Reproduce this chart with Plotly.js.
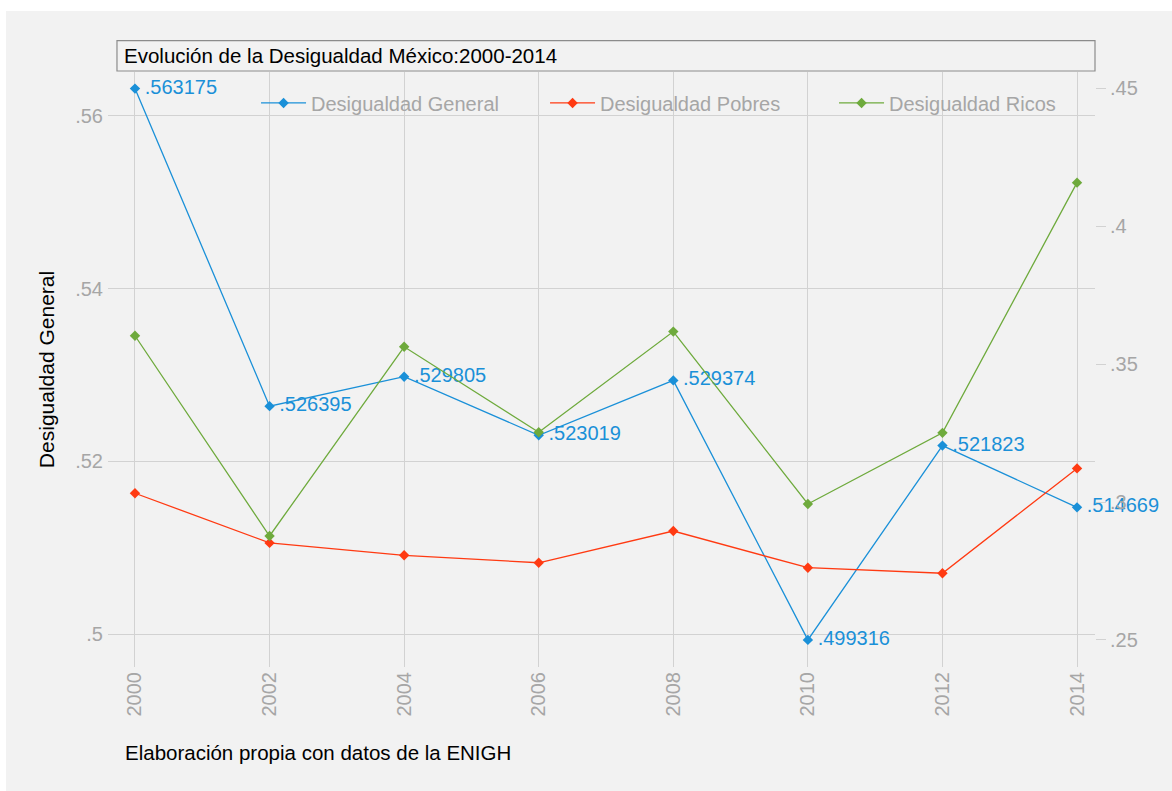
<!DOCTYPE html>
<html>
<head>
<meta charset="utf-8">
<script src="https://cdn.plot.ly/plotly-3.0.1.min.js"></script>
<style>
  html, body { margin: 0; padding: 0; background: #ffffff; }
  #chart { position: absolute; left: 6px; top: 11px; width: 1166px; height: 780px; }
</style>
</head>
<body>
<div id="chart"></div>
<script>
// ---- data ----
const years = [2000, 2002, 2004, 2006, 2008, 2010, 2012, 2014];
const desigualdadGeneral = [0.563175, 0.526395, 0.529805, 0.523019, 0.529374, 0.499316, 0.521823, 0.514669];
const desigualdadPobres  = [0.3032, 0.2852, 0.2807, 0.2780, 0.2895, 0.2762, 0.2742, 0.3122];
const desigualdadRicos   = [0.3603, 0.2877, 0.3563, 0.3253, 0.3618, 0.2993, 0.3251, 0.4158];

const xTickVals = [2000, 2002, 2004, 2006, 2008, 2010, 2012, 2014];
const xTickText = ['2000', '2002', '2004', '2006', '2008', '2010', '2012', '2014'];
const leftTickVals = [0.5, 0.52, 0.54, 0.56];
const leftTickText = ['.5', '.52', '.54', '.56'];
const rightTickVals = [0.25, 0.3, 0.35, 0.4, 0.45];
const rightTickText = ['.25', '.3', '.35', '.4', '.45'];

const seriesNames = ['Desigualdad General', 'Desigualdad Pobres', 'Desigualdad Ricos'];
const chartTitle = 'Evolución de la Desigualdad México:2000-2014';
const yTitle = 'Desigualdad General';
const footNote = 'Elaboración propia con datos de la ENIGH';

// ---- styles ----
const cBlue = '#1a90d8';
const cRed = '#ff3a12';
const cGreen = '#6eaa3c';
const cGrid = '#d2d2d2';
const cTick = '#a6a6a6';
const bg = '#f2f2f2';
const FONT = '"Liberation Sans", Arial, sans-serif';

const labelText = desigualdadGeneral.map(v => String(v).replace(/^0/, ''));

const traces = [
  {
    x: years, y: desigualdadGeneral, name: seriesNames[0], type: 'scatter', mode: 'lines+markers',
    line: {color: cBlue, width: 1.3}, marker: {symbol: 'diamond', size: 8, color: cBlue},
    yaxis: 'y', cliponaxis: false
  },
  {
    x: years, y: desigualdadPobres, name: seriesNames[1], type: 'scatter', mode: 'lines+markers',
    line: {color: cRed, width: 1.3}, marker: {symbol: 'diamond', size: 8, color: cRed},
    yaxis: 'y2', cliponaxis: false
  },
  {
    x: years, y: desigualdadRicos, name: seriesNames[2], type: 'scatter', mode: 'lines+markers',
    line: {color: cGreen, width: 1.3}, marker: {symbol: 'diamond', size: 8, color: cGreen},
    yaxis: 'y2', cliponaxis: false
  },
  {
    x: years, y: desigualdadGeneral, text: labelText, type: 'scatter', mode: 'markers+text',
    marker: {size: 14, color: 'rgba(0,0,0,0)'},
    textposition: 'middle right', textfont: {family: FONT, size: 20, color: cBlue},
    showlegend: false, hoverinfo: 'skip', yaxis: 'y', cliponaxis: false
  }
];

const layout = {
  width: 1166, height: 780,
  paper_bgcolor: bg, plot_bgcolor: bg,
  font: {family: FONT, size: 20, color: cTick},
  margin: {l: 102, r: 77, t: 61, b: 124},
  showlegend: true,
  legend: {
    orientation: 'h', x: 0.150, y: 0.948, xanchor: 'left', yanchor: 'middle',
    bgcolor: 'rgba(0,0,0,0)', borderwidth: 0,
    font: {family: FONT, size: 20, color: cTick},
    itemwidth: 45,
    entrywidth: 229, entrywidthmode: 'pixels'
  },
  xaxis: {
    range: [1999.599, 2014.267], tickvals: xTickVals, ticktext: xTickText, tickangle: -90,
    showgrid: true, gridcolor: cGrid, gridwidth: 1.3, zeroline: false, showline: false,
    ticks: '', tickfont: {family: FONT, size: 20, color: cTick}, automargin: false
  },
  yaxis: {
    range: [0.49618, 0.565095], tickvals: leftTickVals, ticktext: leftTickText,
    showgrid: true, gridcolor: cGrid, gridwidth: 1.3, zeroline: false, showline: false,
    ticks: '', ticklabelstandoff: 4, tickfont: {family: FONT, size: 20, color: cTick}, automargin: false,
    title: {text: yTitle, font: {family: FONT, size: 21, color: '#000000'}, standoff: 14}
  },
  yaxis2: {
    overlaying: 'y', side: 'right', range: [0.24021, 0.45591],
    tickvals: rightTickVals, ticktext: rightTickText,
    showgrid: false, zeroline: false, showline: false,
    ticks: 'outside', ticklen: 10, tickcolor: cGrid, tickwidth: 1.3,
    tickfont: {family: FONT, size: 20, color: cTick}, automargin: false
  },
  shapes: [
    {type: 'rect', xref: 'paper', yref: 'paper', x0: 0.1388, x1: 0.9899, y0: 0.9092, y1: 0.9866,
     fillcolor: bg, line: {width: 0}, layer: 'between'},
    {type: 'rect', xref: 'paper', yref: 'paper', x0: 0.0091, x1: 1.0, y0: 1.0017, y1: 1.0526,
     fillcolor: bg, line: {color: '#8c8c8c', width: 1.2}, layer: 'above'}
  ],
  annotations: [
    {text: chartTitle, xref: 'paper', yref: 'paper', x: 0.0142, y: 1.0271, xanchor: 'left', yanchor: 'middle',
     showarrow: false, font: {family: FONT, size: 20.5, color: '#000000'}},
    {text: footNote, xref: 'paper', yref: 'paper', x: 0.0152, y: -0.1445, xanchor: 'left', yanchor: 'middle',
     showarrow: false, font: {family: FONT, size: 20.5, color: '#000000'}}
  ]
};

Plotly.newPlot('chart', traces, layout, {displayModeBar: false, responsive: false});
</script>
</body>
</html>
